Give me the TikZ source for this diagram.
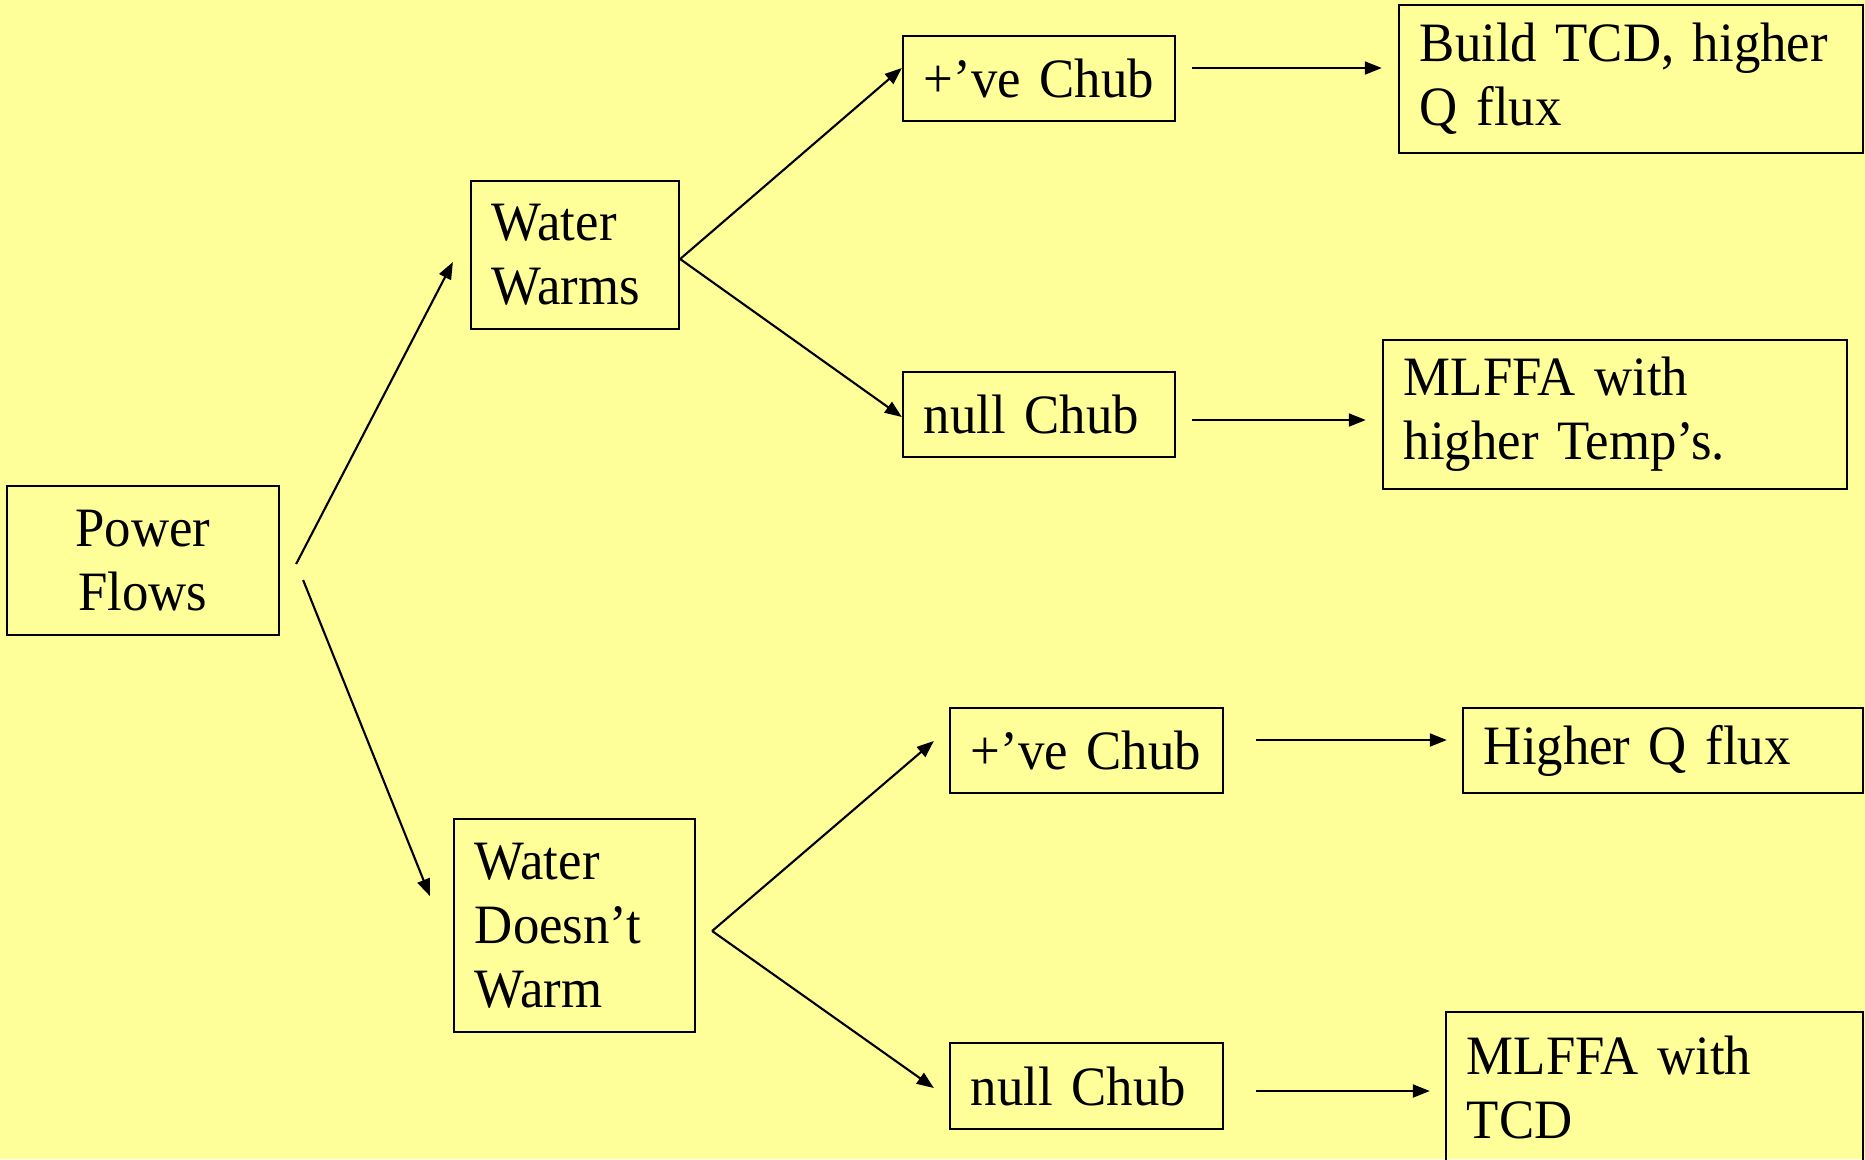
\documentclass[tikz,border=0pt]{standalone}
\usepackage{fontspec}
\setmainfont{Liberation Serif}[FakeStretch=0.95]
\usetikzlibrary{arrows.meta}
\definecolor{slidebg}{HTML}{FFFF99}
\newcommand\slidefont{\fontsize{15.8}{18.2}\selectfont\spaceskip 2.8pt\relax}
\tikzset{
  box/.style 2 args={draw,line width=0.6pt,inner xsep=0.21cm,inner ysep=0pt,
    text width=#1,minimum height=#2,font=\slidefont},
  ar/.style={-{Triangle[length=1.7mm,width=1.3mm]},line width=0.6pt}
}
\begin{document}
\begin{tikzpicture}[x=0.01cm,y=-0.01cm]
\fill[slidebg] (0,0) rectangle (1865,1159);
\useasboundingbox (0,0) rectangle (1865,1159);
% start and the two water cases
\node[box={2.30cm}{1.49cm},align=center] (pf) at (143,560.5) {Power\\Flows};
\node[box={1.66cm}{1.48cm}] (ww) at (575,255) {Water\\Warms};
\node[box={1.99cm}{2.13cm}] (wdw) at (574.5,925.5) {Water\\Doesn’t\\Warm};
% chub outcomes
\node[box={2.30cm}{0.85cm}] (pc1) at (1039,78.5) {+’ve~Chub};
\node[box={2.30cm}{0.85cm}] (nc1) at (1039,414.5) {null~Chub};
\node[box={2.31cm}{0.85cm}] (pc2) at (1086.5,750.5) {+’ve~Chub};
\node[box={2.31cm}{0.86cm}] (nc2) at (1086.5,1086) {null~Chub};
% results
\node[box={4.22cm}{1.48cm}] (res1) at (1631,79) {Build~TCD,~higher\\Q flux};
\node[box={4.22cm}{1.49cm}] (res2) at (1615,414.5) {MLFFA~with\\higher~Temp’s.};
\node[box={3.58cm}{0.85cm}] (res3) at (1663,750.5) {Higher~Q~flux};
\node[box={3.75cm}{1.50cm}] (res4) at (1654.5,1087) {MLFFA~with\\TCD};
% arrows
\draw[ar] ([shift={(16,3.5)}]pf.east) -- ([shift={(-17,7)}]ww.west);
\draw[ar] ([shift={(23,19.5)}]pf.east) -- ([shift={(-23,-29.5)}]wdw.west);
\draw[ar] ([shift={(0,4)}]ww.east) -- ([shift={(0,-10.5)}]pc1.west);
\draw[ar] ([shift={(0,4)}]ww.east) -- ([shift={(0,2.5)}]nc1.west);
\draw[ar] ([shift={(16,5.5)}]wdw.east) -- ([shift={(-15,-9.5)}]pc2.west);
\draw[ar] ([shift={(16,5.5)}]wdw.east) -- ([shift={(-15,2)}]nc2.west);
\draw[ar] ([shift={(16,-10.5)}]pc1.east) -- ([shift={(-16,-11)}]res1.west);
\draw[ar] ([shift={(16,5.5)}]nc1.east) -- ([shift={(-16,5.5)}]res2.west);
\draw[ar] ([shift={(32,-10.5)}]pc2.east) -- ([shift={(-15,-10.5)}]res3.west);
\draw[ar] ([shift={(32,5)}]nc2.east) -- ([shift={(-15,4)}]res4.west);
\end{tikzpicture}
\end{document}
